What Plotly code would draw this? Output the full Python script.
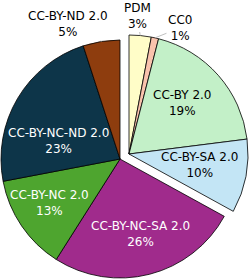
import math
import plotly.graph_objects as go

labels = ["PDM", "CC0", "CC-BY 2.0", "CC-BY-SA 2.0", "CC-BY-NC-SA 2.0",
          "CC-BY-NC 2.0", "CC-BY-NC-ND 2.0", "CC-BY-ND 2.0"]
values = [3, 1, 19, 10, 26, 13, 23, 5]
colors = ["#fffdc8", "#f9c3ad", "#c3f0c8", "#c3e5f5", "#a02b8c",
          "#4ea52f", "#0d3549", "#8e3d0e"]
text_colors = ["black", "black", "black", "black", "white", "white", "white", "black"]
pulled = [True, True, True, True, False, False, False, False]
outside = [True, True, False, False, False, False, False, True]

W, H = 250, 280
cx, cy, R = 120, 159, 119        # main pie centre / radius in px (from top-left)
dx, dy = 9, -5                   # offset of pulled group in px

# label placement: inside -> (angle deg clockwise from top, radial fraction)
#                  outside -> text offset (px) from slice edge midpoint
inside_pos = {"CC-BY 2.0": (46, 0.62), "CC-BY-SA 2.0": (99, 0.60),
              "CC-BY-NC-SA 2.0": (165, 0.65), "CC-BY-NC 2.0": (238, 0.70),
              "CC-BY-NC-ND 2.0": (286, 0.54)}
outside_off = {"PDM": (-3, -20), "CC0": (25, -10), "CC-BY-ND 2.0": (-33, -17)}


def domain(ox, oy):
    return dict(x=[(cx + ox - R) / W, (cx + ox + R) / W],
                y=[(H - (cy + oy + R)) / H, (H - (cy + oy - R)) / H])


def make_trace(group):
    cols, lw = [], []
    for i in range(len(labels)):
        on = pulled[i] == group
        cols.append(colors[i] if on else "rgba(0,0,0,0)")
        lw.append(0.8 if on else 0)
    return go.Pie(labels=labels, values=values, sort=False, direction="clockwise",
                  rotation=0, textinfo="none",
                  marker=dict(colors=cols, line=dict(color="black", width=lw)),
                  domain=domain(dx if group else 0, dy if group else 0),
                  hoverinfo="skip", showlegend=False)


fig = go.Figure([make_trace(False), make_trace(True)])

total = sum(values)
cum = 0
ann = []
font = dict(size=12, family="DejaVu Sans")
for i, l in enumerate(labels):
    mid = (cum + values[i] / 2) / total * 2 * math.pi
    cum += values[i]
    ox, oy = (dx, dy) if pulled[i] else (0, 0)
    txt = f"{l}<br>{values[i]}%"
    if outside[i]:
        px = cx + ox + R * math.sin(mid)
        py = cy + oy - R * math.cos(mid)
        ax, ay = outside_off[l]
        ann.append(dict(x=px / W, y=1 - py / H, xref="paper", yref="paper",
                        text=txt, showarrow=True, arrowhead=0,
                        arrowwidth=0.8, arrowcolor="#b0b0b0", ax=ax, ay=ay,
                        font=dict(color=text_colors[i], **font),
                        align="center", standoff=0, startstandoff=0))
    else:
        ang, frac = inside_pos[l]
        a = math.radians(ang)
        px = cx + ox + frac * R * math.sin(a)
        py = cy + oy - frac * R * math.cos(a)
        ann.append(dict(x=px / W, y=1 - py / H, xref="paper", yref="paper",
                        text=txt, showarrow=False, xanchor="center",
                        yanchor="middle", align="center",
                        font=dict(color=text_colors[i], **font)))

fig.update_layout(width=W, height=H, margin=dict(l=0, r=0, t=0, b=0),
                  paper_bgcolor="white", plot_bgcolor="white",
                  annotations=ann)
fig.write_html("out.html")
